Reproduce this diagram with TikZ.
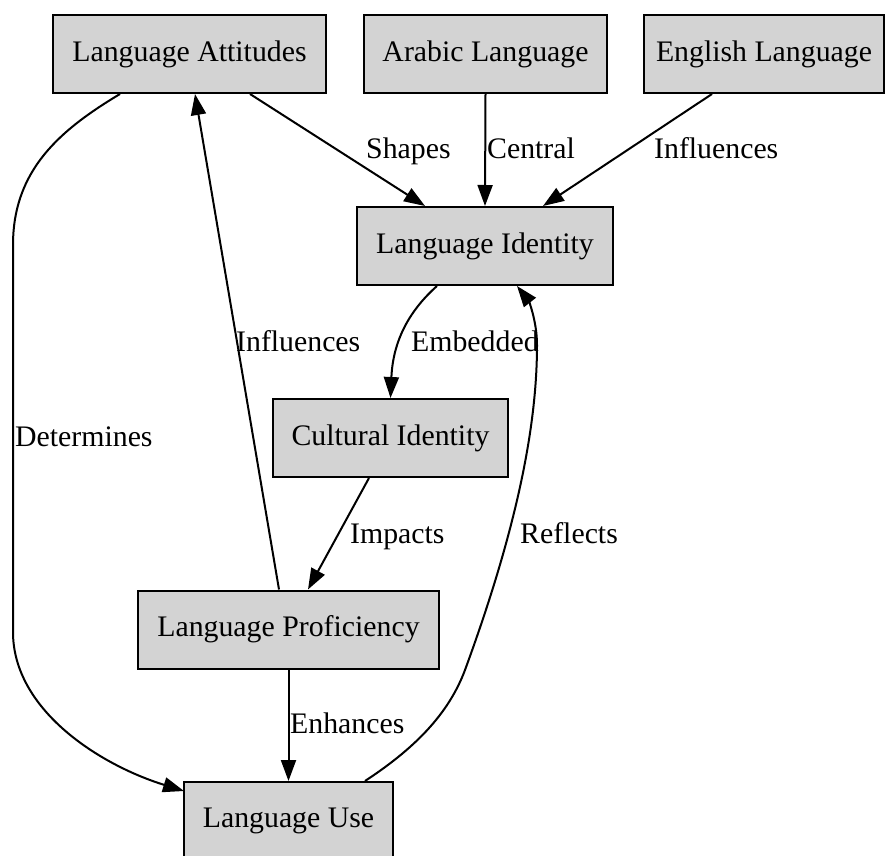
\documentclass[tikz,border=0pt]{standalone}
\usepackage{fontspec}
\setmainfont{Liberation Serif}
\usepackage{tikz}
\usetikzlibrary{
  arrows.meta,
  calc
}
\definecolor{boxgray}{RGB}{211,211,211}
\tikzset{
  concept/.style={draw=black, line width=2pt, fill=boxgray, inner sep=0pt,
    minimum height=78pt, font=\fontsize{29.8pt}{36pt}\selectfont},
  link/.style={line width=2pt, -{Triangle[length=21pt,width=15pt]}},
  tag/.style={anchor=base west, inner sep=0pt, font=\fontsize{29.8pt}{36pt}\selectfont}
}

\begin{document}
\begin{tikzpicture}[x=1pt,y=-1pt]
\useasboundingbox (0,0) rectangle (889,856);
\clip (0,0) rectangle (889,856);


\node [concept, minimum width=273pt] (attitudes) at (189.5,54) {Language Attitudes};
\node [concept, minimum width=243pt] (arabic) at (485.5,54) {Arabic Language};
\node [concept, minimum width=240pt] (english) at (764,54) {English Language};
\node [concept, minimum width=256pt] (identity) at (485,246) {Language Identity};
\node [concept, minimum width=235pt] (cultural) at (390.5,438) {Cultural Identity};
\node [concept, minimum width=301pt] (proficiency) at (288.5,629.5) {Language Proficiency};
\node [concept, minimum width=209pt] (use) at (288.5,821) {Language Use};


\draw [link] ($(attitudes.south)+(60.5,0)$) -- ($(identity.north)+(-60,0)$);
\draw [link] (arabic.south) -- (identity.north);
\draw [link] ($(english.south)+(-52,0)$) -- ($(identity.north)+(58,0)$);
\draw [link] ($(identity.south)+(-48,0)$) .. controls (410,310) and (393,340) .. (cultural.north);
\draw [link] ($(cultural.south)+(-21.5,0)$) -- ($(proficiency.north)+(19.5,0)$);
\draw [link] ($(proficiency.north)+(-9.5,0)$) -- ($(attitudes.south)+(5.5,0)$);
\draw [link] (proficiency.south) -- (use.north);

\draw [link] ($(attitudes.south)+(-69.5,0)$) .. controls (60,130) and (13,170) .. (13,245)
  -- (13,632) .. controls (13,710) and (100,765) .. ($(use.north west)+(1,10)$);
\draw [link] ($(use.north)+(76.5,0)$) .. controls (420,745) and (450,710) .. (465,670)
  .. controls (520,520) and (537,420) .. (537,345)
  .. controls (537,320) and (528,300) .. ($(identity.south)+(32,0)$);


\node [tag] (shapes) at (366,158) {Shapes};
\node [tag] (central) at (487,158) {Central};
\node [tag] (influencesA) at (654,158) {Influences};
\node [tag] (embedded) at (411,351) {Embedded};
\node [tag] (influencesB) at (236,351) {Influences};
\node [tag] (determines) at (15,446) {Determines};
\node [tag] (impacts) at (350,543) {Impacts};
\node [tag] (reflects) at (520,543) {Reflects};
\node [tag] (enhances) at (290,733) {Enhances};
\end{tikzpicture}
\end{document}
